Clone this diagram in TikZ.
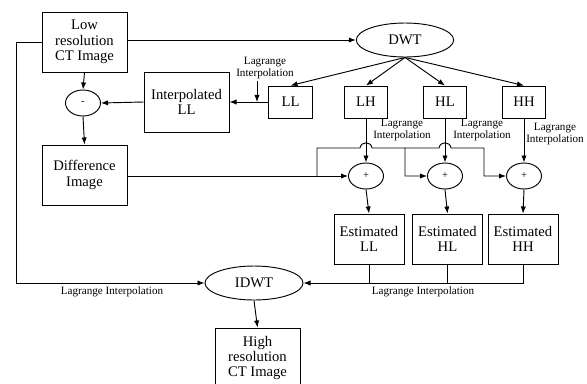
\documentclass[tikz,border=0pt]{standalone}
\usepackage{fontspec}
\setmainfont{Liberation Serif}
\usetikzlibrary{shapes.geometric,arrows.meta}

\begin{document}
\begin{tikzpicture}[x=0.03cm, y=-0.03cm, >={Latex[length=6pt,width=4.5pt]}, line width=0.8pt,
  blok/.style={draw, align=center, inner sep=1pt, font=\fontsize{12.5}{13}\selectfont},
  bigblok/.style={blok, minimum width=2.55cm, minimum height=1.8cm},
  band/.style={blok, minimum width=1.3cm, minimum height=0.96cm},
  estblok/.style={blok, minimum width=2.1cm, minimum height=1.5cm},
  oval/.style={draw, ellipse, inner sep=0pt, minimum width=2.92cm, minimum height=1.02cm, font=\fontsize{12.5}{13}\selectfont},
  sumnode/.style={draw, ellipse, inner sep=0pt, minimum width=1.05cm, minimum height=0.78cm, font=\small},
  lbl/.style={align=center, inner sep=0pt, font=\fontsize{9.5}{10.5}\selectfont}]
\useasboundingbox (0,0) rectangle (587,383);

% blocks
\node[bigblok] (low) at (84.5,42) {Low\\resolution\\CT Image};
\node[oval] (dwt) at (405,40) {DWT};
\node[sumnode] (minus) at (83,103) {-};
\node[bigblok] (interp) at (186.5,102) {Interpolated\\LL};
\node[band] (ll) at (290.5,102) {LL};
\node[band] (lh) at (366,102) {LH};
\node[band] (hl) at (445,102) {HL};
\node[band] (hh) at (524,102) {HH};
\node[bigblok] (diff) at (84.5,175) {Difference\\Image};
\node[sumnode] (p1) at (366,176) {+};
\node[sumnode] (p2) at (445,176) {+};
\node[sumnode] (p3) at (524,176) {+};
\node[estblok] (estLL) at (369,239) {Estimated\\LL};
\node[estblok] (estHL) at (447.5,239) {Estimated\\HL};
\node[estblok] (estHH) at (523,239) {Estimated\\HH};
\node[oval, minimum width=2.94cm] (idwt) at (254,283) {IDWT};
\node[bigblok] (high) at (257.5,358) {High\\resolution\\CT Image};

% labels
\node[lbl] (lagLLtxt) at (265,68) {Lagrange\\Interpolation};
\node[lbl] (lagLHtxt) at (402,130) {Lagrange\\Interpolation};
\node[lbl] (lagHLtxt) at (482,130) {Lagrange\\Interpolation};
\node[lbl] (lagHHtxt) at (555,134) {Lagrange\\Interpolation};
\node[lbl] (lagLeft) at (112,292) {Lagrange Interpolation};
\node[lbl] (lagRight) at (423,292) {Lagrange Interpolation};

% connectors
\draw[->] (low.east |- dwt.west) -- (dwt.west);
\draw[->] (low.west) -| (16,283) -- (idwt.west);
\draw[->] (low.south) -- (minus.north);
\draw[->] (dwt.south) -- (ll.north);
\draw[->] (dwt.south) -- (lh.north);
\draw[->] (dwt.south) -- (hl.north);
\draw[->] (dwt.south) -- (hh.north);
\draw[->] (ll.west) -- (interp.east);
\coordinate (lagLL) at (257,81);
\draw[->] (lagLL) -- (lagLL |- ll.west);
\draw[->] (interp.west) -- (minus.east);
\draw[->] (minus.south) -- (diff.north);
\draw[->] (diff.east |- p1.west) -- (p1.west);
\draw[->] (lh.south) -- (p1.north);
\draw[->] (hl.south) -- (p2.north);
\draw[->] (hh.south) -- (p3.north);
\coordinate (br1) at (317,176);
\draw[->] (br1) -- (317,148) -- (360,148) .. controls (361,141) and (371,141) .. (372,148)
  -- (405,148) |- (p2.west);
\draw[->] (405,148) -- (439,148) .. controls (440,141) and (450,141) .. (451,148)
  -- (484,148) |- (p3.west);
\draw[->] (p1.south) -- (estLL.north);
\draw[->] (p2.south) -- (estHL.north);
\draw[->] (p3.south) -- (estHH.north);
\draw[->] (estHH.south) |- (idwt.east);
\draw (estLL.south) -- (estLL.south |- idwt.east);
\draw (estHL.south) -- (estHL.south |- idwt.east);
\draw[->] (idwt.south) -- (high.north);
\end{tikzpicture}
\end{document}
